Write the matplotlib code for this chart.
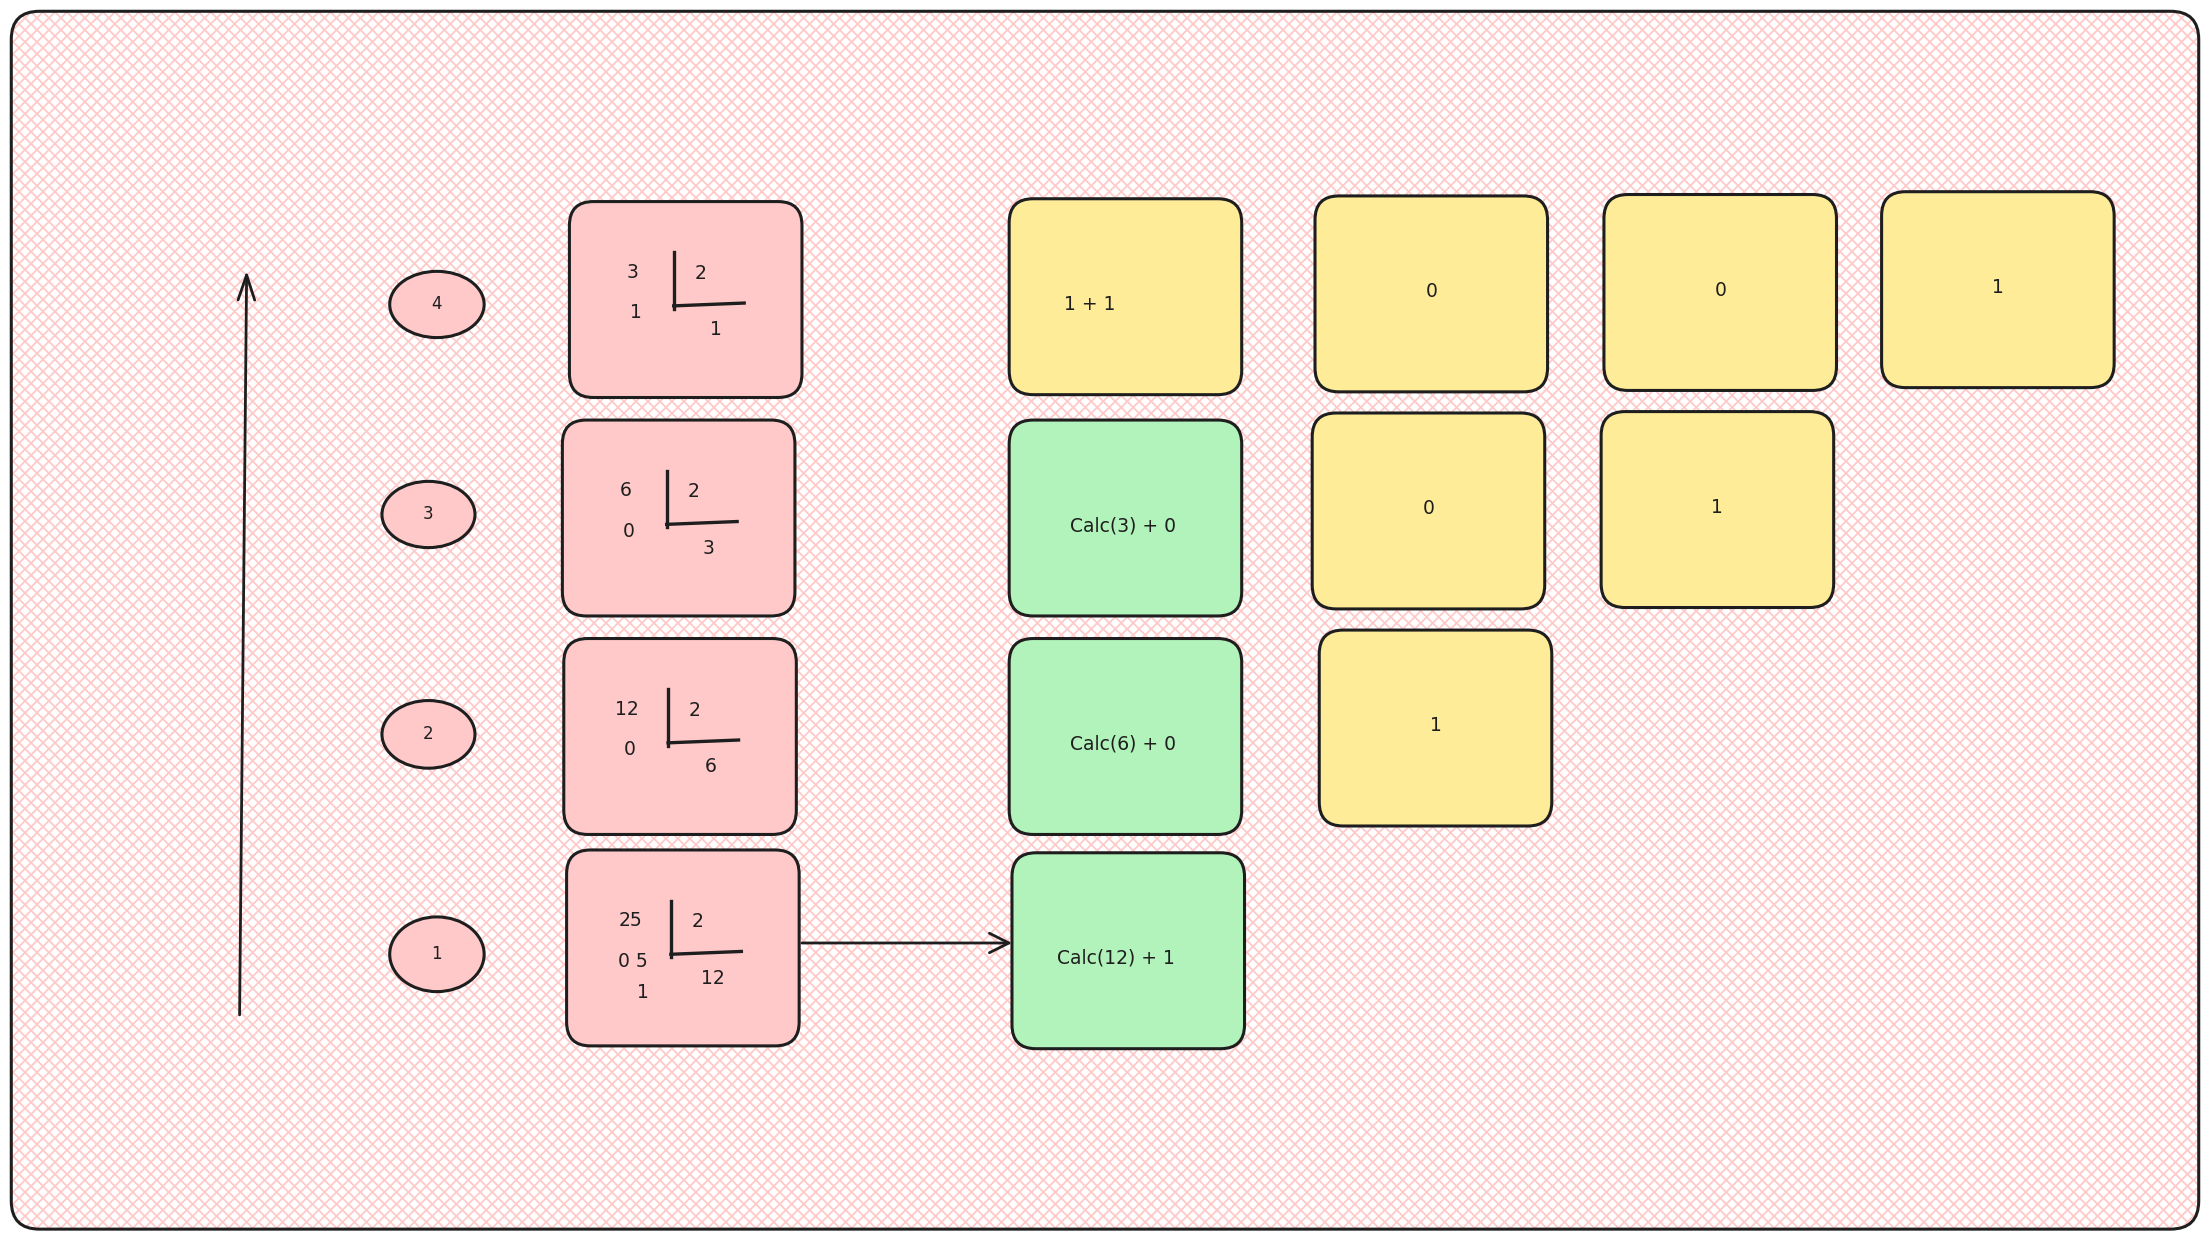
import numpy as np
import matplotlib
matplotlib.use("Agg")
import matplotlib.pyplot as plt
from matplotlib.patches import FancyBboxPatch, Ellipse
from matplotlib.collections import LineCollection

# diagram content
levels = ["1", "2", "3", "4"]
split_top_left = ["25", "12", "6", "3"]
split_top_right = ["2", "2", "2", "2"]
split_bottom_left = ["0 5", "0", "0", "1"]
split_bottom_right = ["12", "6", "3", "1"]
split_extra = ["1", "", "", ""]
calc_labels = ["Calc(12) + 1", "Calc(6) + 0", "Calc(3) + 0", "1 + 1"]
grid_col2 = ["1", "0", "0"]      # rows 2..4
grid_col3 = ["1", "0"]           # rows 3..4
grid_col4 = ["1"]                # row 4

# layout (reference drawn at 1568 px wide)
W, H = 1568, 879
circle_xy = [(310, 677, 67, 53), (304, 521, 66, 48), (304, 365, 66, 47), (310, 216, 67, 47)]
pink_boxes = [(402, 603), (400, 453), (399, 298), (404, 143)]
calc_boxes = [(718, 605), (716, 453), (716, 298), (716, 141)]
calc_text_x = [792, 797, 797, 773]
col2_boxes = [(936, 447), (931, 293), (933, 139)]
col3_boxes = [(1136, 292), (1138, 138)]
col4_boxes = [(1335, 136)]
BW, BH = 165, 139

INK = "#1e1e1e"
PINK = "#ffc9c9"
GREEN = "#b2f2bb"
YELLOW = "#ffec99"
FONT = "DejaVu Sans"

fig = plt.figure(figsize=(22.10, 12.39), dpi=100)
ax = fig.add_axes([0, 0, 1, 1])
ax.set_xlim(0, W)
ax.set_ylim(H, 0)
ax.axis("off")


def rbox(x0, y0, w, h, fc, r=17, lw=2.2, z=3):
    p = FancyBboxPatch((x0, y0), w, h, boxstyle=f"round,pad=0,rounding_size={r}",
                       fc=fc, ec=INK, lw=lw, zorder=z)
    ax.add_patch(p)
    return p


def label(x, y, s, size=13.5):
    ax.text(x, y, s, ha="center", va="center", fontsize=size,
            family=FONT, color=INK, zorder=5)


# frame with pink cross-hatch
frame = rbox(8, 8, 1552, 864, "white", r=20, lw=0, z=0)
step = 8.5
segs = []
for c in np.arange(-H, W + H, step):
    segs.append([(c, 0), (c + H, H)])
    segs.append([(c, 0), (c - H, H)])
lc = LineCollection(segs, colors=PINK, linewidths=1.3, zorder=1)
lc.set_clip_path(frame)
ax.add_collection(lc)
edge = FancyBboxPatch((8, 8), 1552, 864, boxstyle="round,pad=0,rounding_size=20",
                      fill=False, ec=INK, lw=2.2, zorder=2)
ax.add_patch(edge)

# vertical arrow
ax.annotate("", xy=(175, 192), xytext=(170, 720),
            arrowprops=dict(arrowstyle="->,head_length=0.9,head_width=0.3",
                            mutation_scale=20, lw=2.0, color=INK,
                            shrinkA=0, shrinkB=0), zorder=4)

# level circles
for (cx, cy, ew, eh), s in zip(circle_xy, levels):
    ax.add_patch(Ellipse((cx, cy), ew, eh, fc=PINK, ec=INK, lw=2.2, zorder=3))
    label(cx, cy, s, size=12)

# pink split boxes
for i, (x0, y0) in enumerate(pink_boxes):
    rbox(x0, y0, BW, BH, PINK)
    ax.plot([x0 + 74, x0 + 74], [y0 + 36, y0 + 76], color=INK, lw=2.4, zorder=4)
    ax.plot([x0 + 74, x0 + 124], [y0 + 74, y0 + 72], color=INK, lw=2.4, zorder=4)
    label(x0 + 45, y0 + 50, split_top_left[i])
    label(x0 + 93, y0 + 51, split_top_right[i])
    label(x0 + 47, y0 + 79, split_bottom_left[i])
    label(x0 + 104, y0 + 91, split_bottom_right[i])
    if split_extra[i]:
        label(x0 + 54, y0 + 101, split_extra[i])

# calc column
for i, (x0, y0) in enumerate(calc_boxes):
    rbox(x0, y0, BW, BH, YELLOW if i == 3 else GREEN)
    label(calc_text_x[i], y0 + 75, calc_labels[i])

# yellow grid
for boxes, vals in [(col2_boxes, grid_col2), (col3_boxes, grid_col3), (col4_boxes, grid_col4)]:
    for (x0, y0), s in zip(boxes, vals):
        rbox(x0, y0, BW, BH, YELLOW)
        label(x0 + BW / 2, y0 + 68, s)

# horizontal arrow
ax.annotate("", xy=(718, 669), xytext=(569, 669),
            arrowprops=dict(arrowstyle="->,head_length=0.7,head_width=0.35",
                            mutation_scale=20, lw=2.0, color=INK,
                            shrinkA=0, shrinkB=0), zorder=4)

fig.savefig("out.png", dpi=100)
